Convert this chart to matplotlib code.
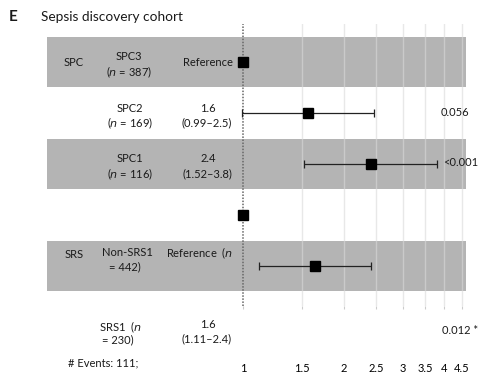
import numpy as np
import matplotlib
matplotlib.use('Agg')
from matplotlib import pyplot as plt

plt.rcParams['font.family'] = ['Lato', 'DejaVu Sans']

# Datos
rows = [0, 1, 2, 3, 4]
hr = [1.0, 1.56, 2.41, 1.0, 1.64]
ci_low = [np.nan, 0.99, 1.52, np.nan, 1.116]
ci_high = [np.nan, 2.46, 3.79, np.nan, 2.41]
band_rows = [0, 2, 4]
xticks = [1, 1.5, 2, 2.5, 3, 3.5, 4, 4.5]
xtick_labels = ['1', '1.5', '2', '2.5', '3', '3.5', '4', '4.5']
p_values = ['0.056', '<0.001', '0.012 *']

W, H = 480, 375
fig = plt.figure(figsize=(W / 100, H / 100), dpi=100)

def px(x, y):
    return x / W, 1 - y / H

# ejes en pixeles: x 47-466, y 24-306
ax = fig.add_axes([47 / W, 1 - 306 / H, (466 - 47) / W, (306 - 24) / H])
ax.set_xscale('log')
ax.set_xlim(0.2595, 4.64)
ax.set_ylim(4.784, -0.745)

for r in band_rows:
    ax.axhspan(r - 0.49, r + 0.49, color='#b4b4b4', lw=0, zorder=0)

for t in xticks[1:]:
    ax.axvline(t, color='#d9d9d9', alpha=0.6, lw=1, zorder=1)
ax.axvline(1, color='#666666', lw=1.1, ls=(0, (1, 1)), zorder=2)

lo = np.array(hr) - np.array(ci_low)
hi = np.array(ci_high) - np.array(hr)
ax.errorbar(hr, rows, xerr=[lo, hi], fmt='none', ecolor='#222222',
            elinewidth=0.9, capsize=2.9, capthick=0.9, zorder=3)
ax.plot(hr, rows, 's', color='black', markersize=6.8, zorder=4)

ax.set_xticks(xticks)
ax.set_xticklabels(xtick_labels)
ax.xaxis.set_minor_locator(matplotlib.ticker.NullLocator())
ax.tick_params(axis='x', length=2, color='#cccccc', pad=39, labelsize=8)
ax.set_yticks([])
for s in ax.spines.values():
    s.set_visible(False)

# textos
fs = 8
def t(x, y, s, **kw):
    kw.setdefault('fontsize', fs)
    kw.setdefault('ha', 'center')
    fig.text(*px(x, y), s, va='center', color='#1a1a1a', **kw)

t(13, 17, 'E', fontsize=11, fontweight='bold')
t(41, 17, 'Sepsis discovery cohort', fontsize=9.8, ha='left')

t(74, 63, 'SPC')
t(129, 57, 'SPC3')
t(129, 72, '($n$ = 387)')
t(233, 63, 'Reference', ha='right')

t(130, 108, 'SPC2')
t(130, 123, '($n$ = 169)')
t(208, 108, '1.6')
t(207, 123, '(0.99–2.5)')

t(130, 159, 'SPC1')
t(130, 174, '($n$ = 116)')
t(208, 159, '2.4')
t(207, 174, '(1.52–3.8)')

t(74, 254, 'SRS')
t(127, 253, 'Non-SRS1')
t(125, 267, '= 442)')
t(199, 253, 'Reference  ($n$')

t(120, 327, 'SRS1  ($n$')
t(118, 340, '= 230)')
t(208, 325, '1.6')
t(207, 339, '(1.11–2.4)')

t(441, 113, p_values[0], ha='left')
t(443, 163, p_values[1], ha='left')
t(442, 330, p_values[2], ha='left')

t(68, 363, '# Events: 111;', ha='left')

fig.savefig('out.png', dpi=100)
